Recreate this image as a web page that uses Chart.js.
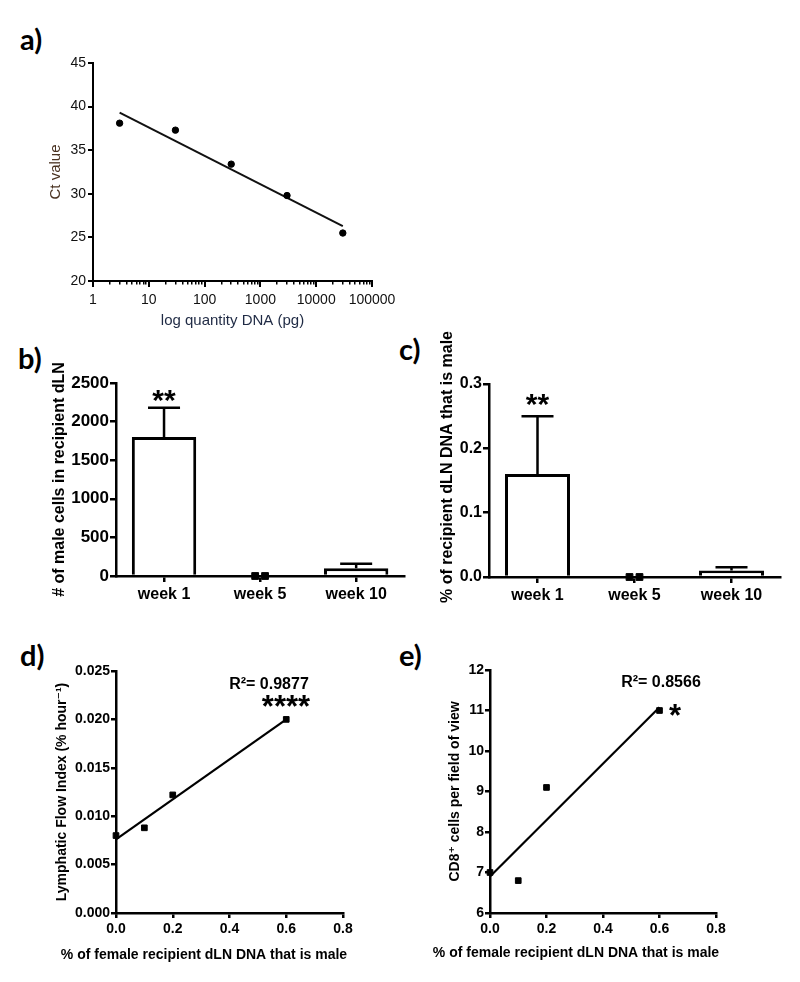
<!DOCTYPE html>
<html><head><meta charset="utf-8">
<script src="https://cdn.jsdelivr.net/npm/chart.js@4.4.0/dist/chart.umd.min.js"></script>
<style>
html,body{margin:0;padding:0;background:#fff}
body{width:800px;height:982px;position:relative;overflow:hidden}
canvas{position:absolute}
.plabel{position:absolute;font-family:Lato,"Liberation Sans",sans-serif;font-weight:bold;font-size:29px;line-height:1;color:#000}
</style></head>
<body>
<div class="plabel" style="left:20px;top:24px">a)</div>
<div class="plabel" style="left:18px;top:343px">b)</div>
<div class="plabel" style="left:399px;top:334px">c)</div>
<div class="plabel" style="left:20px;top:640px">d)</div>
<div class="plabel" style="left:399px;top:640px">e)</div>
<canvas id="cA" width="400" height="340" style="left:0;top:0"></canvas>
<canvas id="cB" width="410" height="300" style="left:0;top:330px"></canvas>
<canvas id="cC" width="400" height="300" style="left:400px;top:330px"></canvas>
<canvas id="cD" width="400" height="342" style="left:0;top:640px"></canvas>
<canvas id="cE" width="400" height="342" style="left:400px;top:640px"></canvas>
<script>
// ---------------- data ----------------
// a) standard curve
const qtyDNA = [3, 30, 300, 3000, 30000];
const ctValues = [38.1, 37.3, 33.4, 29.8, 25.5];
const ctFitX = [3, 30000];
const ctFitY = [39.3, 26.3];
const logMajorTicks = [1, 10, 100, 1000, 10000, 100000];
const ctTicks = [20, 25, 30, 35, 40, 45];
// b) / c) bar charts
const weeks = ['week 1', 'week 5', 'week 10'];
const maleCells = [1800, 0, 100];
const maleCellsErr = [380, 0, 60];
const maleCellsWeek5 = [0, 0];
const maleCellsTicks = [0, 500, 1000, 1500, 2000, 2500];
const maleDNA = [0.16, 0, 0.01];
const maleDNAErr = [0.09, 0, 0.005];
const maleDNAWeek5 = [0, 0];
const maleDNATicks = [0, 0.1, 0.2, 0.3];
const sigWeeks = ['**', '', ''];
// d) / e) correlations
const pctMale = [0, 0.1, 0.2, 0.6];
const lymphFlow = [0.008, 0.0088, 0.0122, 0.020];
const cd8Cells = [7.0, 6.8, 9.1, 11.0];
const fitX = [0, 0.6];
const lymphFit = [0.0076, 0.0200];
const cd8Fit = [6.9, 11.08];
const pctTicks = [0, 0.2, 0.4, 0.6, 0.8];
const lymphTicks = [0, 0.005, 0.010, 0.015, 0.020, 0.025];
const cd8Ticks = [6, 7, 8, 9, 10, 11, 12];

// ---------------- helpers ----------------
const F = "'Liberation Sans', Arial, 'DejaVu Sans', sans-serif";
const fix = (w, h) => s => {
  if (w !== null) s.width = w;
  if (h !== null) s.height = h;
  s.paddingLeft = 0; s.paddingRight = 0; s.paddingTop = 0; s.paddingBottom = 0;
};
const setTicks = arr => s => { s.ticks = arr.map(v => ({ value: v })); };
const axisLook = (lw, tl) => ({
  grid: { display: true, drawOnChartArea: false, drawTicks: true, tickLength: tl, color: '#000', lineWidth: lw, tickWidth: lw },
  border: { display: true, color: '#000', width: lw }
});

const errorBars = {
  id: 'errBars',
  afterDatasetsDraw(chart, args, o) {
    if (!o || !o.errors) return;
    const meta = chart.getDatasetMeta(0);
    const y = chart.scales.y;
    const vals = chart.data.datasets[0].data;
    const ctx = chart.ctx;
    ctx.save();
    ctx.strokeStyle = '#000';
    ctx.lineWidth = o.lineWidth;
    meta.data.forEach((bar, i) => {
      const e = o.errors[i];
      if (!e) return;
      const top = y.getPixelForValue(vals[i] + e);
      ctx.beginPath();
      ctx.moveTo(bar.x, bar.y);
      ctx.lineTo(bar.x, top);
      ctx.moveTo(bar.x - o.cap / 2, top);
      ctx.lineTo(bar.x + o.cap / 2, top);
      ctx.stroke();
      if (o.sig && o.sig[i]) {
        ctx.font = o.sigFont;
        ctx.fillStyle = '#000';
        ctx.textAlign = 'center';
        ctx.textBaseline = 'alphabetic';
        ctx.fillText(o.sig[i], bar.x, top - o.sigGap);
      }
    });
    ctx.restore();
  }
};
const panelText = {
  id: 'panelText',
  afterDraw(chart, args, o) {
    if (!o || !o.items) return;
    const ctx = chart.ctx;
    o.items.forEach(it => {
      ctx.save();
      ctx.font = it.font;
      ctx.fillStyle = it.color || '#000';
      ctx.textAlign = it.align || 'center';
      ctx.textBaseline = it.baseline || 'middle';
      ctx.translate(it.x, it.y);
      if (it.rotate) ctx.rotate(it.rotate);
      ctx.fillText(it.text, 0, 0);
      ctx.restore();
    });
  }
};
Chart.register(errorBars, panelText);
const base = { responsive: false, animation: false, events: [] };
const noLegend = { legend: { display: false }, tooltip: { enabled: false } };

// ---------------- a) ----------------
const logMinorTicks = [];
logMajorTicks.slice(0, -1).forEach(m => { for (let k = 2; k <= 9; k++) logMinorTicks.push(m * k); });
new Chart(document.getElementById('cA'), {
  type: 'scatter',
  data: { datasets: [
    { data: qtyDNA.map((x, i) => ({ x, y: ctValues[i] })), pointStyle: 'circle', pointRadius: 3.2, borderWidth: 1,
      backgroundColor: '#000', borderColor: '#000', clip: false },
    { type: 'line', data: ctFitX.map((x, i) => ({ x, y: ctFitY[i] })), borderColor: '#111', borderWidth: 2,
      pointRadius: 0, fill: false, clip: false }
  ] },
  options: Object.assign({}, base, {
    layout: { padding: { left: 0, top: 63, right: 28, bottom: 0 } },
    plugins: noLegend,
    scales: {
      x: Object.assign(axisLook(2, 6), {
        type: 'logarithmic', position: 'bottom', min: 1, max: 100000, weight: 1,
        afterBuildTicks: setTicks(logMajorTicks), afterFit: fix(null, 59),
        ticks: { autoSkip: false, maxRotation: 0, padding: 5, color: '#111', font: { family: F, size: 14 }, callback: v => String(v) },
        title: { display: true, text: 'log quantity DNA (pg)', color: '#1f2a44', font: { family: F, size: 15 }, padding: { top: 0, bottom: 10 } }
      }),
      xm: {
        type: 'logarithmic', axis: 'x', position: 'bottom', min: 1, max: 100000, weight: 0,
        afterBuildTicks: setTicks(logMinorTicks), afterFit: fix(null, 0),
        ticks: { display: false },
        grid: { display: true, drawOnChartArea: false, drawTicks: true, tickLength: 3.5, color: '#000', lineWidth: 1.5 },
        border: { display: false }
      },
      y: Object.assign(axisLook(2, 5), {
        min: 20, max: 45, afterBuildTicks: setTicks(ctTicks), afterFit: fix(93, null),
        ticks: { padding: 2, color: '#111', font: { family: F, size: 14 } },
        title: { display: true, text: 'Ct value', color: '#4a3322', font: { family: F, size: 15 }, padding: { top: 47, bottom: 0 } }
      })
    }
  })
});

// ---------------- b) / c) ----------------
function barChart(id, vals, errs, week5, ticks, yMax, yw, yTitle, titlePad, pad, fmt, tickSize, sigGap, items) {
  return new Chart(document.getElementById(id), {
    type: 'bar',
    data: { labels: weeks, datasets: [
      { data: vals, backgroundColor: '#fff', borderColor: '#000', borderWidth: 3, barPercentage: 0.67,
        categoryPercentage: 1, borderSkipped: 'start', grouped: false },
      { type: 'scatter', xAxisID: 'xj', data: week5.map((v, i) => ({ x: 1 + (i === 0 ? -0.06 : 0.06), y: v })),
        pointStyle: 'rect', pointRadius: 4.8, borderWidth: 1, backgroundColor: '#000', borderColor: '#000', clip: false }
    ] },
    options: Object.assign({}, base, {
      layout: { padding: pad },
      plugins: Object.assign({
        errBars: { errors: errs, lineWidth: 2.5, cap: 32, sig: sigWeeks, sigFont: 'bold 30px ' + F, sigGap: sigGap },
        panelText: { items: items || [] }
      }, noLegend),
      scales: {
        x: Object.assign(axisLook(2.5, 6), {
          type: 'category', offset: true, afterFit: fix(null, pad.xh),
          ticks: { padding: 3, color: '#000', font: { family: F, size: 16, weight: 'bold' } }
        }),
        xj: { type: 'linear', axis: 'x', position: 'bottom', display: false, min: -0.5, max: 2.5 },
        y: Object.assign(axisLook(2.5, 6), {
          min: 0, max: yMax, afterBuildTicks: setTicks(ticks), afterFit: fix(yw, null),
          ticks: { padding: 1, color: '#000', font: { family: F, size: tickSize, weight: 'bold' }, callback: fmt },
          title: { display: !!yTitle, text: yTitle || '', color: '#000', font: { family: F, size: 16, weight: 'bold' }, padding: { top: titlePad, bottom: 0 } }
        })
      }
    })
  });
}
const cB = barChart('cB', maleCells, maleCellsErr, maleCellsWeek5, maleCellsTicks, 2500, 116,
  '# of male cells in recipient dLN', 50, { left: 0, top: 53, right: 5, bottom: 0, xh: 54 }, v => String(v), 17, -2.5);
cB.options.scales.x.grid.offset = false; cB.update();
const cC = barChart('cC', maleDNA, maleDNAErr, maleDNAWeek5, maleDNATicks, 0.3, 89,
  null, 0, { left: 0, top: 54, right: 20, bottom: 0, xh: 53 }, v => v.toFixed(1), 16, 2.5, [
    { text: '% of recipient dLN DNA that is male', x: 48, y: 137, rotate: -Math.PI / 2, font: 'bold 16px ' + F }
  ]);
cC.options.scales.x.grid.offset = false; cC.update();

// ---------------- d) / e) ----------------
function corrChart(id, ys, fitY, yTicks, yw, yTitle, titlePad, pad, fmt, items) {
  return new Chart(document.getElementById(id), {
    type: 'scatter',
    data: { datasets: [
      { data: pctMale.map((x, i) => ({ x, y: ys[i] })), pointStyle: 'rect', pointRadius: 4, borderWidth: 1,
        backgroundColor: '#000', borderColor: '#000', clip: false },
      { type: 'line', data: fitX.map((x, i) => ({ x, y: fitY[i] })), borderColor: '#000', borderWidth: 2.2,
        pointRadius: 0, fill: false, clip: false }
    ] },
    options: Object.assign({}, base, {
      layout: { padding: pad },
      plugins: Object.assign({ panelText: { items } }, noLegend),
      scales: {
        x: Object.assign(axisLook(2.5, 5), {
          type: 'linear', min: 0, max: 0.8, afterBuildTicks: setTicks(pctTicks), afterFit: fix(null, pad.xh),
          ticks: { padding: 3, color: '#000', font: { family: F, size: 14, weight: 'bold' }, callback: v => v.toFixed(1) }
        }),
        y: Object.assign(axisLook(2.5, 5), {
          min: yTicks[0], max: yTicks[yTicks.length - 1], afterBuildTicks: setTicks(yTicks), afterFit: fix(yw, null),
          ticks: { padding: 1, color: '#000', font: { family: F, size: 14, weight: 'bold' }, callback: fmt },
          title: { display: true, text: yTitle, color: '#000', font: { family: F, size: 14, weight: 'bold' }, padding: { top: titlePad, bottom: 0 } }
        })
      }
    })
  });
}
const xTitle = '% of female recipient dLN DNA that is male';
corrChart('cD', lymphFlow, lymphFit, lymphTicks, 116, 'Lymphatic Flow Index (% hour\u207B\u00B9)', 54,
  { left: 0, top: 31, right: 57, bottom: 0, xh: 69 }, v => v.toFixed(3), [
    { text: xTitle, x: 204, y: 315, font: 'bold 14px ' + F },
    { text: 'R\u00B2= 0.9877', x: 269, y: 45, font: 'bold 16px ' + F },
    { text: '****', x: 286, y: 77, font: 'bold 31px ' + F, baseline: 'alphabetic' }
  ]);
corrChart('cE', cd8Cells, cd8Fit, cd8Ticks, 90, 'CD8\u207A cells per field of view', 47,
  { left: 0, top: 30, right: 84, bottom: 0, xh: 69 }, v => String(v), [
    { text: xTitle, x: 176, y: 313, font: 'bold 14px ' + F },
    { text: 'R\u00B2= 0.8566', x: 261, y: 43, font: 'bold 16px ' + F },
    { text: '*', x: 275, y: 86, font: 'bold 31px ' + F, baseline: 'alphabetic' }
  ]);
</script>
</body></html>
